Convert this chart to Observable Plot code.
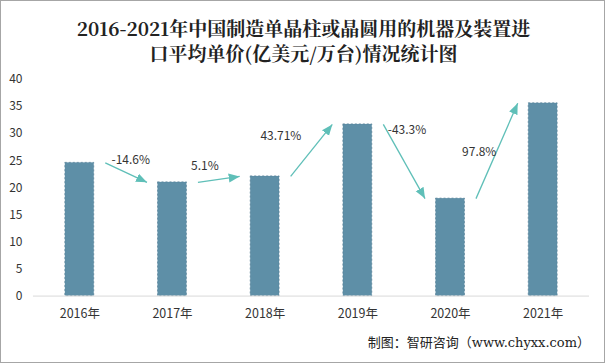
<!DOCTYPE html>
<html>
<head>
<meta charset="utf-8">
<script src="https://cdn.jsdelivr.net/npm/d3@7"></script>
<script src="https://cdn.jsdelivr.net/npm/@observablehq/plot@0.6"></script>
<style>
  html, body { margin: 0; padding: 0; background: #fff; }
  #frame {
    position: relative; width: 603px; height: 361px;
    border: 1px solid #a6a6a6; background: #fff; overflow: hidden;
    font-family: "Noto Sans CJK SC", sans-serif;
  }
  .tline {
    position: absolute; left: 0; width: 605px; text-align: center;
    font-family: "Noto Serif CJK SC", "DejaVu Serif", "Noto Sans CJK SC", serif;
    font-weight: bold; font-size: 19px; line-height: 22px; color: #222;
  }
  #chart { position: absolute; left: -1px; top: 59px; }
  #source {
    position: absolute; right: 14px; top: 331px; color: #222;
    font-family: "DejaVu Serif", "Noto Sans CJK SC", serif; font-size: 13px;
  }
</style>
</head>
<body>
<div id="frame">
  <div class="tline" style="top:16px">2016-2021年中国制造单晶柱或晶圆用的机器及装置进</div>
  <div class="tline" style="top:41px">口平均单价(亿美元/万台)情况统计图</div>
  <div id="chart"></div>
  <div id="source">制图：智研咨询（www.chyxx.com）</div>
</div>
<script>
const years = ["2016年", "2017年", "2018年", "2019年", "2020年", "2021年"];
const prices = [24.6, 21.0, 22.1, 31.7, 18.0, 35.6];
const growth = ["-14.6%", "5.1%", "43.71%", "-43.3%", "97.8%"];
const yTicks = [0, 5, 10, 15, 20, 25, 30, 35, 40];

const bars = years.map((y, i) => ({i, year: y, value: prices[i]}));
const arrows = growth.map((g, i) => ({i, from: prices[i], to: prices[i + 1], label: g}));

// label placement (index offset, y offset in px)
const labelPos = [
  {dxi: 0.05, dy: -12},
  {dxi: -0.15, dy: -13},
  {dxi: -0.33, dy: -14},
  {dxi: 0.03, dy: -31},
  {dxi: -0.19, dy: 1}
];

const halfBar = 0.156;
const gap = 0.275;

function filledArrow(color, context) {
  const doc = (context && context.document) || document;
  const m = d3.select(doc.createElementNS("http://www.w3.org/2000/svg", "marker"))
    .attr("viewBox", "-11 -5 11 10")
    .attr("markerWidth", 11).attr("markerHeight", 10)
    .attr("refX", 0).attr("refY", 0)
    .attr("orient", "auto")
    .attr("markerUnits", "userSpaceOnUse")
    .attr("fill", color).attr("stroke", "none");
  m.append("path").attr("d", "M-11,-4.5L0,0L-11,4.5Z");
  return m.node();
}

const plot = Plot.plot({
  width: 605,
  height: 272,
  marginTop: 19,
  marginBottom: 36,
  marginLeft: 33,
  marginRight: 15,
  style: {fontFamily: "'Noto Sans CJK SC', sans-serif", fontSize: "12px", color: "#333", background: "transparent"},
  x: {type: "linear", domain: [-0.5, 5.5], axis: null},
  y: {domain: [0, 40], axis: null},
  marks: [
    Plot.rectY(bars, {
      x1: d => d.i - halfBar, x2: d => d.i + halfBar, y1: 0, y2: "value",
      fill: "#5e8fa7", stroke: "#557f96", strokeWidth: 0.7, strokeDasharray: "2,2"
    }),
    Plot.ruleY([0], {stroke: "#d9d9d9", strokeWidth: 1}),
    Plot.axisY({ticks: yTicks, tickSize: 0, tickPadding: 11, fontSize: 12, fill: "#333"}),
    Plot.axisX({ticks: years.map((_, i) => i), tickFormat: i => years[i], tickSize: 0, tickPadding: 13, fontSize: 12.5, fill: "#333"}),
    Plot.link(arrows, {
      x1: d => d.i + gap, y1: "from",
      x2: d => d.i + 1 - gap, y2: "to",
      stroke: "#5fbfb8", strokeWidth: 1.3, markerEnd: filledArrow
    }),
    ...arrows.map((d, k) => Plot.text([d], {
      x: a => a.i + 0.5 + labelPos[k].dxi,
      y: a => (a.from + a.to) / 2,
      text: "label",
      dy: labelPos[k].dy,
      fontSize: 12,
      fill: "#333"
    }))
  ]
});
document.getElementById("chart").appendChild(plot);
</script>
</body>
</html>
